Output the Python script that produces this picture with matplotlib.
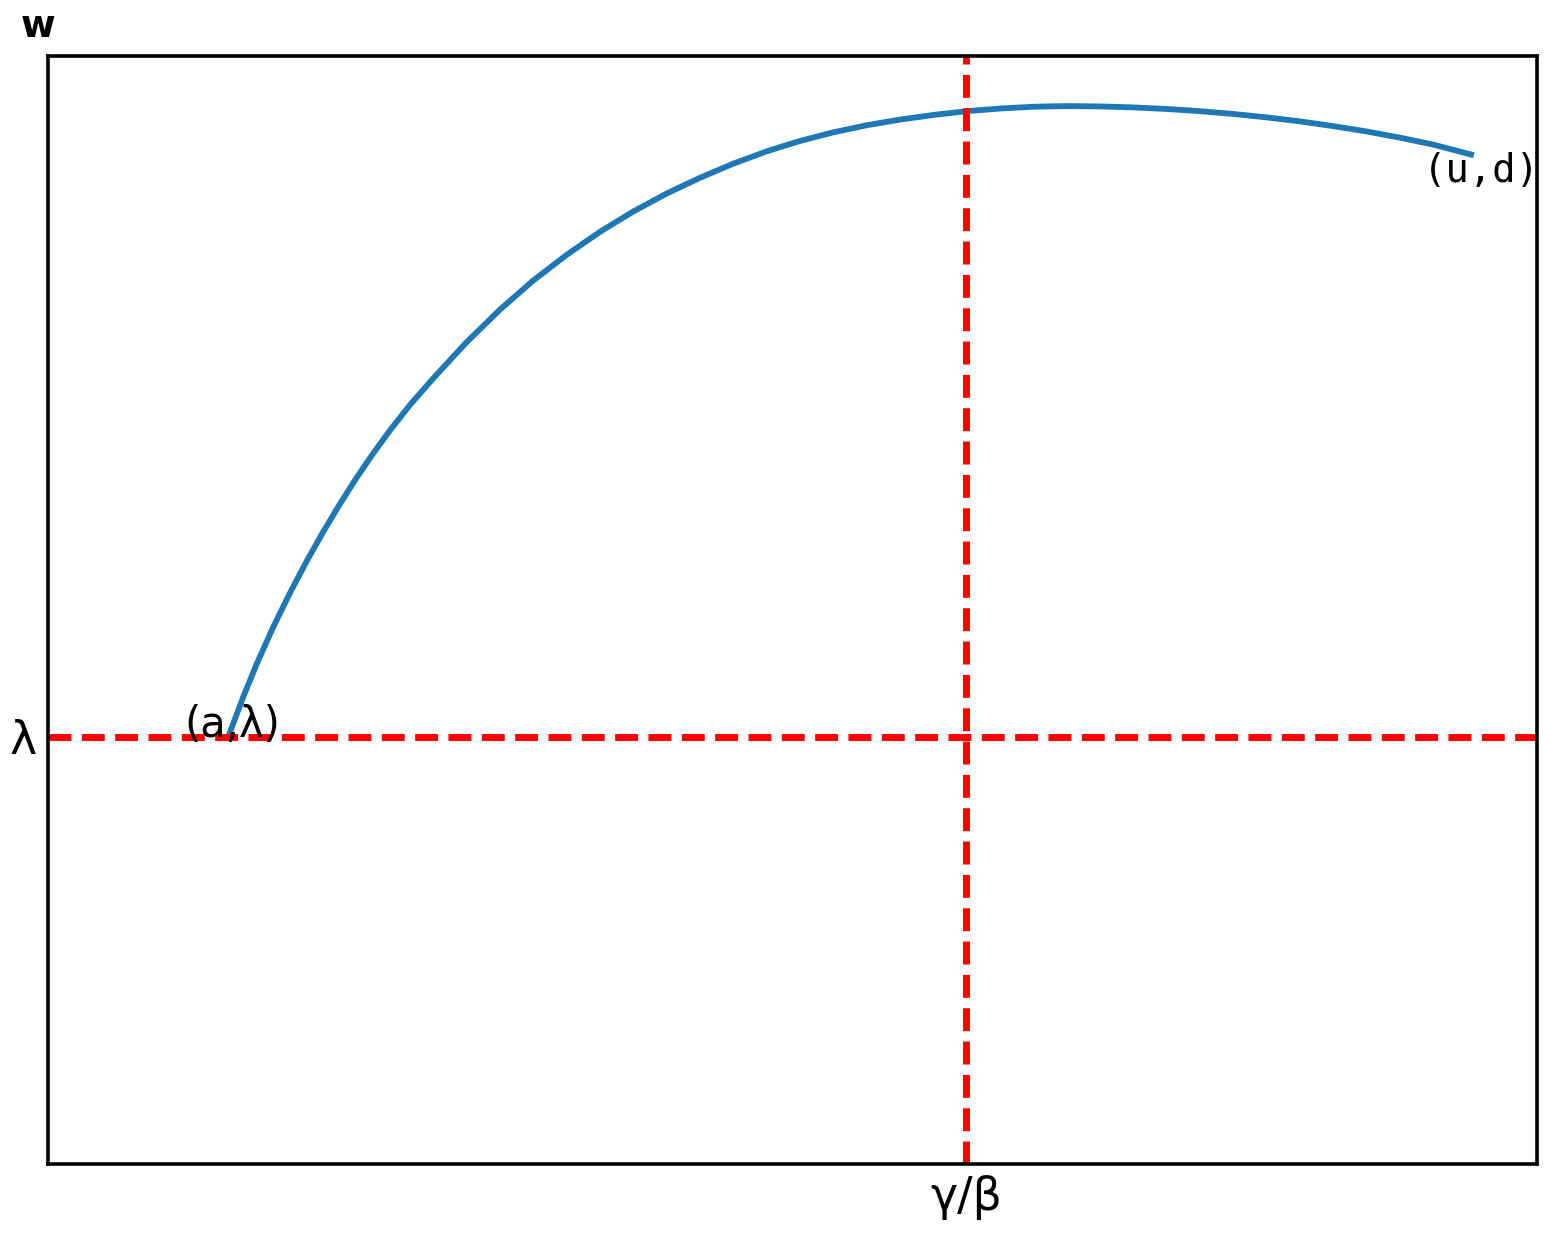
import numpy as np
import matplotlib
matplotlib.use('Agg')
import matplotlib.pyplot as plt

# curve (arbitrary units, 0..100 on both axes)
curve_x = [12.11, 13.12, 14.02, 15.13, 16.25, 17.37, 18.49, 19.61, 20.73, 21.85,
           22.97, 24.31, 25.88, 28.12, 30.36, 32.59, 34.84, 37.07, 39.31, 41.55,
           43.79, 46.02, 48.27, 50.50, 52.74, 54.98, 57.22, 59.46, 61.70, 63.94,
           66.17, 68.42, 70.65, 72.89, 75.13, 77.37, 79.60, 81.85, 84.08, 86.32,
           88.56, 90.80, 93.04, 95.57]
curve_y = [38.57, 42.18, 45.14, 48.47, 51.54, 54.40, 57.07, 59.58, 61.95, 64.15,
           66.22, 68.51, 70.92, 74.18, 77.12, 79.74, 82.06, 84.13, 85.97, 87.59,
           89.01, 90.28, 91.40, 92.33, 93.11, 93.75, 94.26, 94.68, 95.02, 95.26,
           95.42, 95.48, 95.45, 95.36, 95.22, 95.02, 94.77, 94.46, 94.10, 93.67,
           93.19, 92.63, 92.00, 91.11]

lam = 38.54         # horizontal reference level
gamma_beta = 61.65  # vertical reference position

x_ticks = [gamma_beta]
x_ticklabels = ['γ/β']
y_ticks = [lam]
y_ticklabels = ['λ']

fig = plt.figure(figsize=(15.54, 12.41), dpi=100)
ax = fig.add_axes([48 / 1554, 77 / 1241, 1489 / 1554, 1108 / 1241])

ax.plot(curve_x, curve_y, color='#1f77b4', lw=4.2)
ax.axhline(lam, color='red', ls='--', lw=5, dashes=(3.3, 1.5))
ax.axvline(gamma_beta, color='red', ls='--', lw=5, dashes=(3.3, 1.5))

ax.text(curve_x[0] + 0.3, curve_y[0], '(a,λ)', fontsize=30, ha='center', va='baseline')
ax.text(curve_x[-1] + 0.7, 91.3, '(u,d)', fontsize=28, ha='center', va='top',
        family='DejaVu Sans Mono')
fig.text(0.0135, 0.9705, 'w', fontsize=27, fontweight='bold', ha='left', va='baseline')

ax.set_xlim(0, 100)
ax.set_ylim(0, 100)
ax.set_xticks(x_ticks)
ax.set_xticklabels(x_ticklabels, fontsize=33)
ax.set_yticks(y_ticks)
ax.set_yticklabels(y_ticklabels, fontsize=33)
ax.tick_params(length=0, pad=8)
for s in ax.spines.values():
    s.set_linewidth(2.6)

fig.savefig('out.png', dpi=100)
